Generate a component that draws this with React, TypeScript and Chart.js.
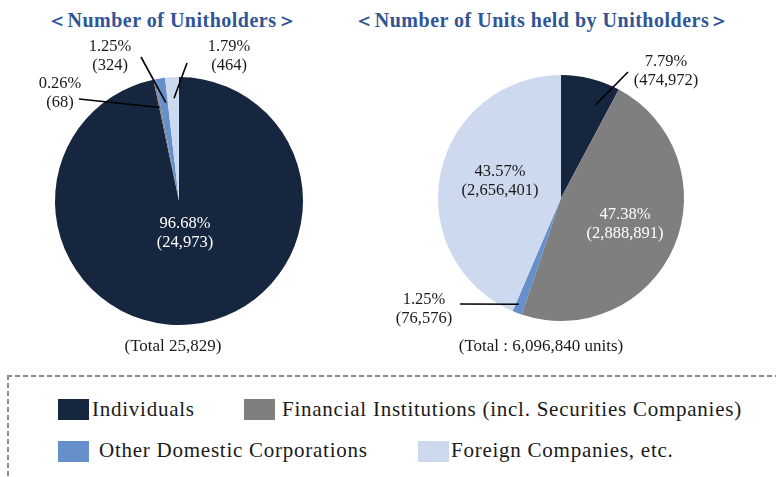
import React, { useEffect, useRef } from 'react';
import { Chart, registerables } from 'chart.js';

Chart.register(...registerables);

// ---------- data ----------
const categories = [
  'Individuals',
  'Financial Institutions (incl. Securities Companies)',
  'Other Domestic Corporations',
  'Foreign Companies, etc.',
];
const holderCounts = [24973, 68, 324, 464];
const holderPercents = [96.68, 0.26, 1.25, 1.79];
const unitCounts = [474972, 2888891, 76576, 2656401];
const unitPercents = [7.79, 47.38, 1.25, 43.57];
const holderTitle = '＜Number of Unitholders＞';
const unitTitle = '＜Number of Units held by Unitholders＞';
const holderTotal = '(Total 25,829)';
const unitTotal = '(Total : 6,096,840 units)';

// ---------- styles ----------
const colors = ['#17263f', '#7f7f7f', '#6690cc', '#cdd9ee'];
const DARK = '#1a1a1a';
const SERIF = '"Liberation Serif", "Times New Roman", serif';

type LabelLayout = {
  x: number;
  y: number;
  color: string;
  line?: { x: number; y: number; t: number; r: number };
};

const holderLabels: LabelLayout[] = [
  { x: 185, y: 224, color: '#ffffff' },
  { x: 60, y: 84, color: DARK, line: { x: 79, y: 99, t: 0.3, r: 0.77 } },
  { x: 110, y: 47, color: DARK, line: { x: 141, y: 57, t: 0.75, r: 0.8 } },
  { x: 229, y: 47, color: DARK, line: { x: 187, y: 63, t: 0.57, r: 0.83 } },
];
const unitLabels: LabelLayout[] = [
  { x: 666, y: 62, color: DARK, line: { x: 628, y: 72, t: 0.73, r: 0.81 } },
  { x: 625, y: 215, color: '#ffffff' },
  { x: 424, y: 300, color: DARK, line: { x: 460, y: 304, t: 0.67, r: 0.93 } },
  { x: 500, y: 172, color: DARK },
];

const legendLayout = [
  { left: 58, top: 399, textLeft: 92, textTop: 397 },
  { left: 244, top: 399, textLeft: 282, textTop: 397 },
  { left: 58, top: 441, textLeft: 99, textTop: 438 },
  { left: 418, top: 441, textLeft: 451, textTop: 438 },
];

function makeLabelPlugin(layouts: LabelLayout[], percents: number[], counts: number[]) {
  return {
    id: 'sliceLabels',
    afterDatasetsDraw(chart: any) {
      const ctx = chart.ctx as CanvasRenderingContext2D;
      const meta = chart.getDatasetMeta(0);
      ctx.save();
      meta.data.forEach((arc: any, i: number) => {
        const lay = layouts[i];
        if (!lay) return;
        const p = arc.getProps(['x', 'y', 'startAngle', 'endAngle', 'outerRadius'], true);
        if (lay.line) {
          const a = p.startAngle + lay.line.t * (p.endAngle - p.startAngle);
          const ex = p.x + Math.cos(a) * p.outerRadius * lay.line.r;
          const ey = p.y + Math.sin(a) * p.outerRadius * lay.line.r;
          ctx.beginPath();
          ctx.moveTo(lay.line.x, lay.line.y);
          ctx.lineTo(ex, ey);
          ctx.strokeStyle = '#000000';
          ctx.lineWidth = 1.6;
          ctx.stroke();
        }
        ctx.fillStyle = lay.color;
        ctx.font = `16.5px ${SERIF}`;
        ctx.textAlign = 'center';
        ctx.textBaseline = 'middle';
        ctx.fillText(percents[i].toFixed(2) + '%', lay.x, lay.y);
        ctx.fillText('(' + counts[i].toLocaleString('en-US') + ')', lay.x, lay.y + 19);
      });
      ctx.restore();
    },
  };
}

function buildPie(
  canvas: HTMLCanvasElement,
  counts: number[],
  percents: number[],
  layouts: LabelLayout[],
  padding: { left: number; top: number; right: number; bottom: number }
) {
  return new Chart(canvas, {
    type: 'pie',
    data: {
      labels: categories,
      datasets: [{ data: counts, backgroundColor: colors, borderWidth: 0 }],
    },
    options: {
      animation: false,
      responsive: false,
      maintainAspectRatio: false,
      events: [],
      layout: { padding },
      plugins: { legend: { display: false }, tooltip: { enabled: false } },
    },
    plugins: [makeLabelPlugin(layouts, percents, counts)],
  } as any);
}

export default function App() {
  const leftRef = useRef<HTMLCanvasElement>(null);
  const rightRef = useRef<HTMLCanvasElement>(null);

  useEffect(() => {
    const c1 = buildPie(leftRef.current!, holderCounts, holderPercents, holderLabels, {
      left: 55,
      top: 77,
      right: 473,
      bottom: 35,
    });
    const c2 = buildPie(rightRef.current!, unitCounts, unitPercents, unitLabels, {
      left: 438,
      top: 75,
      right: 92,
      bottom: 39,
    });
    return () => {
      c1.destroy();
      c2.destroy();
    };
  }, []);

  const titleStyle: React.CSSProperties = {
    position: 'absolute',
    top: 8,
    textAlign: 'center',
    fontFamily: SERIF,
    fontWeight: 'bold',
    fontSize: 20,
    lineHeight: '24px',
    letterSpacing: '0.5px',
    color: '#2f5597',
    whiteSpace: 'nowrap',
  };
  const totalStyle: React.CSSProperties = {
    position: 'absolute',
    top: 336,
    textAlign: 'center',
    fontFamily: SERIF,
    fontSize: 17,
    lineHeight: '20px',
    color: DARK,
    whiteSpace: 'nowrap',
  };

  return (
    <div
      style={{
        position: 'absolute',
        left: 0,
        top: 0,
        width: 776,
        height: 477,
        overflow: 'hidden',
        background: '#ffffff',
      }}
    >
      <div style={{ ...titleStyle, left: 0, width: 344 }}>{holderTitle}</div>
      <div style={{ ...titleStyle, left: 342, width: 400 }}>{unitTitle}</div>

      <canvas
        ref={leftRef}
        width={776}
        height={360}
        style={{ position: 'absolute', left: 0, top: 0, width: 776, height: 360 }}
      />
      <canvas
        ref={rightRef}
        width={776}
        height={360}
        style={{ position: 'absolute', left: 0, top: 0, width: 776, height: 360 }}
      />

      <div style={{ ...totalStyle, left: 73, width: 200 }}>{holderTotal}</div>
      <div style={{ ...totalStyle, left: 441, width: 200 }}>{unitTotal}</div>

      {/* dashed legend frame */}
      <div
        style={{
          position: 'absolute',
          left: 7,
          top: 375,
          width: 769,
          height: 2,
          background: 'repeating-linear-gradient(to right, #8c8c8c 0 5px, transparent 5px 8px)',
        }}
      />
      <div
        style={{
          position: 'absolute',
          left: 7,
          top: 375,
          width: 2,
          height: 102,
          background: 'repeating-linear-gradient(to bottom, #8c8c8c 0 5px, transparent 5px 8px)',
        }}
      />

      {categories.map((name, i) => (
        <React.Fragment key={name}>
          <div
            style={{
              position: 'absolute',
              left: legendLayout[i].left,
              top: legendLayout[i].top,
              width: 31,
              height: 21,
              background: colors[i],
            }}
          />
          <div
            style={{
              position: 'absolute',
              left: legendLayout[i].textLeft,
              top: legendLayout[i].textTop,
              fontFamily: SERIF,
              fontSize: 21,
              lineHeight: '24px',
              letterSpacing: '0.75px',
              color: DARK,
              whiteSpace: 'nowrap',
            }}
          >
            {name}
          </div>
        </React.Fragment>
      ))}
    </div>
  );
}
